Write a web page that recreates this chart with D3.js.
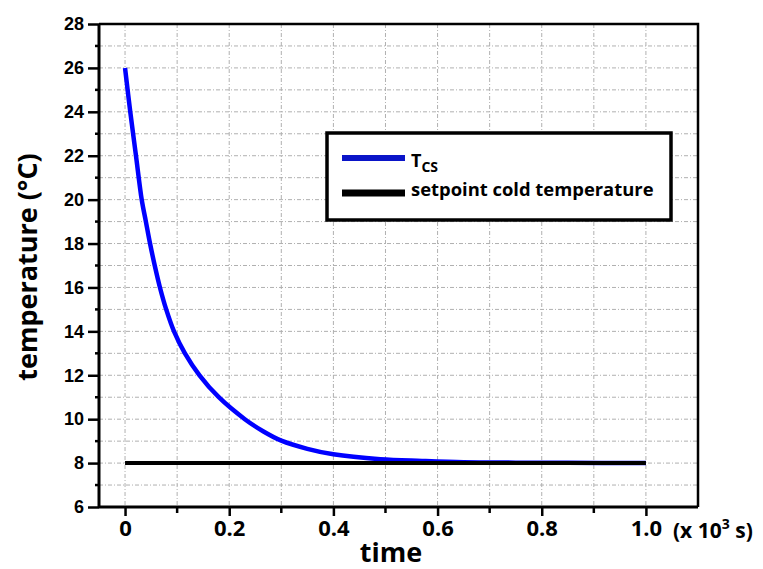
<!DOCTYPE html>
<html>
<head>
<meta charset="utf-8">
<script src="https://cdn.jsdelivr.net/npm/d3@7"></script>
<style>
  body { margin: 0; background: #fff; }
  text { font-family: "Open Sans", "Liberation Sans", sans-serif; font-weight: bold; }
</style>
</head>
<body>
<div id="chart"></div>
<script>
// values
const timeValues = [0, 0.010, 0.021, 0.032, 0.040, 0.048, 0.057, 0.067, 0.079, 0.094, 0.115, 0.143, 0.18, 0.23, 0.265, 0.30, 0.35, 0.4, 0.49, 0.57, 0.65, 0.75, 0.85, 1.0];
const tcsValues  = [26, 24, 22, 20, 19, 18, 17, 16, 15, 14, 13, 12, 11, 10, 9.45, 9.02, 8.65, 8.4, 8.18, 8.1, 8.04, 8.02, 8.01, 8.0];
const setpointTime = [0, 1.0];
const setpointValues = [8, 8];
const xTicks = [0, 0.2, 0.4, 0.6, 0.8, 1.0];
const xMinorTicks = [0.1, 0.3, 0.5, 0.7, 0.9];
const yTicks = [6, 8, 10, 12, 14, 16, 18, 20, 22, 24, 26, 28];
const yMinorTicks = [7, 9, 11, 13, 15, 17, 19, 21, 23, 25, 27];
const legendLabels = ["T", "setpoint cold temperature"];

const WIDTH = 763, HEIGHT = 569;
const LEFT = 99, RIGHT = 698, TOP = 24, BOTTOM = 507;

const svg = d3.select("#chart").append("svg")
    .attr("width", WIDTH)
    .attr("height", HEIGHT);

const x = d3.scaleLinear().domain([-0.05, 1.1]).range([LEFT, RIGHT]);
const y = d3.scaleLinear().domain([6, 28]).range([BOTTOM, TOP]);

// grid
const grid = svg.append("g")
    .attr("stroke", "#b0b0b0")
    .attr("stroke-width", 1)
    .attr("stroke-dasharray", "4,2,1,2");

grid.selectAll(".gx")
    .data(xTicks.concat(xMinorTicks))
    .join("line")
    .attr("x1", d => x(d)).attr("x2", d => x(d))
    .attr("y1", TOP).attr("y2", BOTTOM);

grid.selectAll(".gy")
    .data(yTicks.concat(yMinorTicks).filter(d => d > 6 && d < 28))
    .join("line")
    .attr("x1", LEFT).attr("x2", RIGHT)
    .attr("y1", d => y(d)).attr("y2", d => y(d));

// frame top / right
svg.append("path")
    .attr("d", `M${LEFT},${TOP}H${RIGHT}V${BOTTOM}`)
    .attr("fill", "none")
    .attr("stroke", "#000")
    .attr("stroke-width", 2.5);

// data lines
const line = d3.line()
    .x(d => x(d[0]))
    .y(d => y(d[1]))
    .curve(d3.curveCatmullRom.alpha(0.5));

svg.append("path")
    .datum(timeValues.map((t, i) => [t, tcsValues[i]]))
    .attr("d", line)
    .attr("fill", "none")
    .attr("stroke", "#0000ff")
    .attr("stroke-width", 4.5);

svg.append("path")
    .datum(setpointTime.map((t, i) => [t, setpointValues[i]]))
    .attr("d", d3.line().x(d => x(d[0])).y(d => y(d[1])))
    .attr("fill", "none")
    .attr("stroke", "#000")
    .attr("stroke-width", 4);

// axes
const xAxis = svg.append("g")
    .attr("transform", `translate(0,${BOTTOM})`)
    .call(d3.axisBottom(x).tickValues(xTicks).tickSize(9).tickFormat(d => d === 0 ? "0" : d3.format(".1f")(d)));
xAxis.append("g").selectAll("line")
    .data(xMinorTicks)
    .join("line")
    .attr("x1", d => x(d)).attr("x2", d => x(d))
    .attr("y1", 0).attr("y2", 6)
    .attr("stroke", "#000").attr("stroke-width", 2.5);

const yAxis = svg.append("g")
    .attr("transform", `translate(${LEFT},0)`)
    .call(d3.axisLeft(y).tickValues(yTicks).tickSize(11));
yAxis.append("g").selectAll("line")
    .data(yMinorTicks)
    .join("line")
    .attr("x1", -4).attr("x2", 0)
    .attr("y1", d => y(d)).attr("y2", d => y(d))
    .attr("stroke", "#000").attr("stroke-width", 2.5);

[xAxis, yAxis].forEach(a => {
    a.select(".domain").attr("stroke-width", 3).attr("d", null);
    a.selectAll(".tick line").attr("stroke-width", 2.5);
});
xAxis.select(".domain").attr("d", `M${LEFT},0H${RIGHT}`);
yAxis.select(".domain").attr("d", `M0,${TOP}V${BOTTOM}`);

xAxis.selectAll(".tick text")
    .attr("y", 13)
    .attr("font-size", 22)
    .attr("fill", "#000");

yAxis.selectAll(".tick text")
    .attr("x", -15)
    .attr("font-size", 18)
    .style("font-family", "'Liberation Sans', Arial, sans-serif")
    .attr("fill", "#000");

// axis titles
svg.append("text")
    .attr("x", 391)
    .attr("y", 562)
    .attr("text-anchor", "middle")
    .attr("font-size", 27)
    .text("time");

svg.append("text")
    .attr("transform", "translate(37,267) rotate(-90)")
    .attr("text-anchor", "middle")
    .attr("font-size", 27)
    .text("temperature (°C)");

const unit = svg.append("text")
    .attr("x", 673)
    .attr("y", 538)
    .attr("font-size", 21);
unit.append("tspan").text("(x 10");
unit.append("tspan").attr("dy", -9).attr("font-size", 14).text("3");
unit.append("tspan").attr("dy", 9).text(" s)");

// legend
const legend = svg.append("g");
legend.append("rect")
    .attr("x", 327).attr("y", 133)
    .attr("width", 344).attr("height", 87)
    .attr("fill", "#fff")
    .attr("stroke", "#000")
    .attr("stroke-width", 3.5);

legend.append("line")
    .attr("x1", 342).attr("x2", 405)
    .attr("y1", 158).attr("y2", 158)
    .attr("stroke", "#0a14c8").attr("stroke-width", 6);

legend.append("line")
    .attr("x1", 342).attr("x2", 405)
    .attr("y1", 193).attr("y2", 193)
    .attr("stroke", "#000").attr("stroke-width", 7);

const tl = legend.append("text")
    .attr("x", 411).attr("y", 167)
    .attr("font-size", 18);
tl.append("tspan").text(legendLabels[0]);
tl.append("tspan").attr("dy", 5).attr("font-size", 14).text("CS");

legend.append("text")
    .attr("x", 411).attr("y", 196)
    .attr("font-size", 18.4)
    .text(legendLabels[1]);
</script>
</body>
</html>
